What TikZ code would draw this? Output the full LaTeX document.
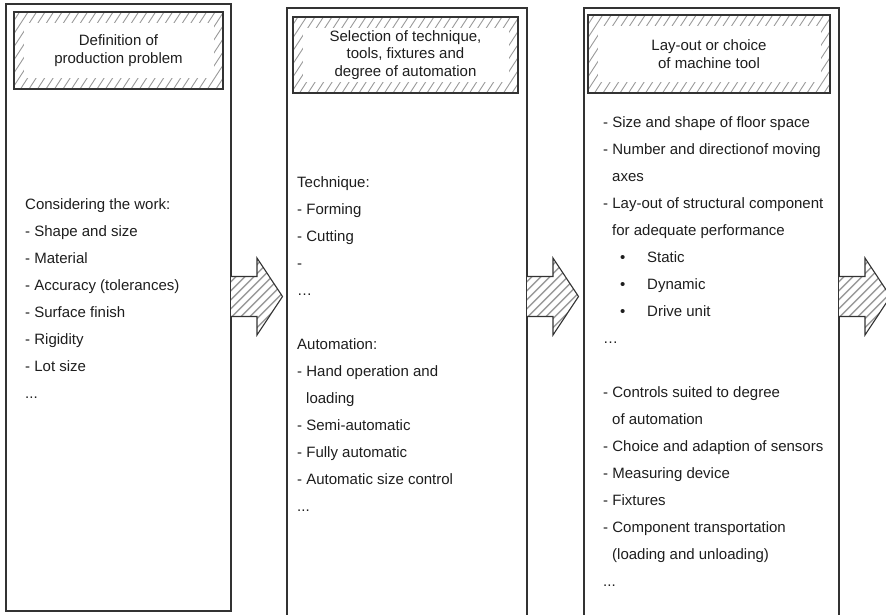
\documentclass[tikz,border=0pt]{standalone}
\usepackage{fontspec}
\setmainfont{Liberation Sans}
\definecolor{ln}{HTML}{333333}
\definecolor{ht}{HTML}{9A9A9A}
\definecolor{tx}{HTML}{1E1E1E}
\newcommand\mytxtfont{\fontsize{15pt}{17.5pt}\selectfont}
\newcommand\tdd{...}
\newcommand\tel{…}
\tikzset{
  colbox/.style={draw=ln, line width=1.2pt, inner sep=0pt, outer sep=0pt},
  hdr/.style={draw=ln, line width=1.1pt, inner sep=0pt, outer sep=0pt,
    align=center, font=\mytxtfont, text=tx,
    path picture={
      \foreach \k in {-70,-61.5,...,260}
        \draw[ht, line width=0.9pt] ([xshift=\k pt]path picture bounding box.south west) -- ++(52pt,80pt);
      \fill[white] ([shift={(10pt,-11pt)}]path picture bounding box.north west)
        rectangle ([shift={(-9pt,11pt)}]path picture bounding box.south east);
    }},
  txt/.style={anchor=base west, inner sep=0pt, font=\mytxtfont, text=tx},
  arrowline/.style={draw=ln, line width=1.1pt, line join=miter},
  hatchline/.style={ht, line width=1.4pt}
}
\newcommand\bigarrow[1]{%
  \begin{scope}
    \clip (#1) ++(0,-20) -- ++(26,0) -- ++(0,-18.5) -- ++(25.5,38.5) -- ++(-25.5,38.5) -- ++(0,-18.5) -- ++(-26,0) -- cycle;
    \fill[white] ([shift={(-5pt,-50pt)}]#1) rectangle ([shift={(60pt,50pt)}]#1);
    \foreach \k in {-60,-51,...,60}
      \draw[hatchline] ([shift={(\k pt,-45pt)}]#1) -- ++(90pt,90pt);
  \end{scope}
  \draw[arrowline] (#1) ++(0,-20) -- ++(26,0) -- ++(0,-18.5) -- ++(25.5,38.5) -- ++(-25.5,38.5) -- ++(0,-18.5) -- ++(-26,0);
}
\begin{document}
\begin{tikzpicture}[x=1pt,y=-1pt]
\useasboundingbox (0,0) rectangle (886,614);
\clip (0,0) rectangle (886,614);
\fill[white] (0,0) rectangle (886,614);

% columns
\node[colbox, minimum width=225pt, minimum height=607pt] (c1) at (118.5,307.5) {};
\node[colbox, minimum width=240pt, minimum height=620pt] (c2) at (407,318) {};
\node[colbox, minimum width=255pt, minimum height=620pt] (c3) at (711.5,318) {};

% headers
\node[hdr, minimum width=209pt, minimum height=77pt] (h1) at (118.5,50.5) {Definition of\\production problem};
\node[hdr, minimum width=225pt, minimum height=76pt] (h2) at (405.5,55) {Selection of technique,\\tools, fixtures and\\degree of automation};
\node[hdr, minimum width=242pt, minimum height=78pt] (h3) at (709,54) {Lay-out or choice\\of machine tool};

% arrows
\coordinate (a1) at (c1.east |- 0,296.5);
\coordinate (a2) at (c2.east |- 0,296.5);
\coordinate (a3) at (c3.east |- 0,296.5);
\bigarrow{a1}
\bigarrow{a2}
\bigarrow{a3}

% column 1 text
\foreach \dx/\t [count=\i from 0] in {0/Considering the work:, 0/- Shape and size, 0/- Material,
  0/- Accuracy (tolerances), 0/- Surface finish, 0/- Rigidity, 0/- Lot size, 0/\tdd}
  \node[txt] (ta\i) at (25+\dx, 209+27*\i) {\t};

% column 2 text
\foreach \dx/\t [count=\i from 0] in {0/Technique:, 0/- Forming, 0/- Cutting, 0/-, 0/\tel, 0/{},
  0/Automation:, 0/- Hand operation and, 9/loading, 0/- Semi-automatic, 0/- Fully automatic,
  0/- Automatic size control, 0/\tdd}
  \node[txt] (tb\i) at (297+\dx, 187+27*\i) {\t};

% column 3 text
\foreach \dx/\t [count=\i from 0] in {0/- Size and shape of floor space, 0/- Number and directionof moving,
  9/axes, 0/- Lay-out of structural component, 9/for adequate performance,
  17/\makebox[27pt][l]{•}Static, 17/\makebox[27pt][l]{•}Dynamic, 17/\makebox[27pt][l]{•}Drive unit,
  0/\tel, 0/{}, 0/- Controls suited to degree, 9/of automation, 0/- Choice and adaption of sensors,
  0/- Measuring device, 0/- Fixtures, 0/- Component transportation, 9/(loading and unloading), 0/\tdd}
  \node[txt] (tc\i) at (603+\dx, 127+27*\i) {\t};
\end{tikzpicture}
\end{document}
